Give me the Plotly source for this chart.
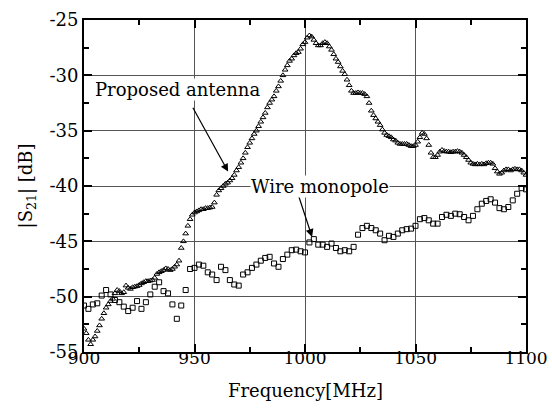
import plotly.graph_objects as go

# measured sweep, 1 MHz step for the proposed antenna, 2 MHz for the monopole
freq_prop = list(range(900, 1101, 1))
s21_prop = [
    -52.9, -53.3, -53.9, -54.3, -53.9, -53.6, -53.1, -52.6, -52.0, -51.5,
    -51.0, -50.7, -50.4, -50.2, -49.7, -49.4, -49.5, -49.7, -49.6, -49.0,
    -49.2, -49.3, -49.15, -49.1, -49.05, -48.95, -48.8, -48.7, -48.6, -48.6,
    -48.55, -48.5, -48.3, -47.95, -47.8, -47.7, -47.6, -47.45, -47.5, -47.6,
    -47.5, -47.3, -47.1, -46.75, -45.6, -45.0, -44.3, -43.6, -43.0, -42.6,
    -42.4, -42.3, -42.2, -42.1, -42.1, -42.0, -42.0, -41.95, -41.9, -41.5,
    -40.8, -40.4, -40.2, -40.0, -39.8, -39.7, -39.5, -39.3, -39.0, -38.6,
    -38.3, -37.9, -37.5, -37.0, -36.5, -36.1, -35.7, -35.3, -35.0, -34.6,
    -34.2, -33.8, -33.4, -32.9, -32.5, -32.2, -31.9, -31.4, -31.0, -30.5,
    -30.0, -29.5, -29.1, -28.7, -28.5, -28.2, -28.0, -27.9, -27.6, -27.2,
    -27.0, -26.6, -26.4, -26.5, -26.8, -27.1, -27.3, -27.3, -27.1, -27.0,
    -27.1, -27.4, -27.7, -28.1, -28.5, -28.8, -29.2, -29.6, -29.9, -30.4,
    -30.9, -31.4, -31.6, -31.6, -31.55, -31.6, -31.6, -31.7, -31.9, -32.5,
    -33.2, -33.6, -33.9, -34.2, -34.5, -34.9, -35.2, -35.4, -35.5, -35.6,
    -35.8, -35.9, -36.1, -36.2, -36.2, -36.2, -36.2, -36.3, -36.4, -36.4,
    -36.3, -36.0, -35.6, -35.2, -35.3, -35.7, -36.3, -37.0, -37.4, -37.4,
    -37.2, -36.9, -36.75, -36.85, -36.9, -36.9, -36.95, -36.9, -36.9, -36.85,
    -36.9, -37.0, -37.2, -37.4, -37.65, -37.9, -38.0, -38.05, -38.0, -38.05,
    -38.0, -38.05, -37.95, -37.9, -37.9, -38.0, -38.4, -38.7, -38.9, -38.8,
    -38.6, -38.5, -38.5, -38.6, -38.5, -38.45, -38.5, -38.5, -38.6, -38.8,
    -39.0,
]

freq_wire = list(range(900, 1101, 2))
s21_wire = [
    -50.8, -51.1, -50.7, -50.6, -49.9, -49.4, -49.8, -50.3, -50.5, -50.9,
    -51.3, -51.0, -50.4, -51.1, -50.5, -49.8, -49.1, -48.7, -49.5, -49.7,
    -50.7, -52.0, -50.8, -49.4, -47.5, -47.4, -47.1, -47.2, -47.8, -48.0,
    -48.5, -47.3, -47.6, -48.5, -48.9, -49.0, -48.0, -47.8, -47.4, -47.1,
    -46.75, -46.5, -46.4, -47.0, -47.3, -46.6, -46.2, -45.8, -45.75, -45.9,
    -46.0, -45.1, -44.8, -45.3, -45.3, -45.5, -45.2, -45.6, -45.9, -45.8,
    -45.9, -45.5, -44.4, -43.8, -43.6, -43.8, -44.0, -44.3, -44.9, -44.5,
    -44.6, -44.3, -44.0, -43.9, -43.85, -43.6, -43.0, -42.9, -43.1, -43.4,
    -43.4, -42.8, -42.6, -42.7, -42.5, -42.55, -42.8, -43.1, -42.7, -42.1,
    -41.6, -41.35, -41.2, -41.5, -42.0, -42.1, -41.9, -41.3, -40.7, -40.2,
    -40.3,
]

x_ticks = [900, 950, 1000, 1050, 1100]
y_ticks = [-55, -50, -45, -40, -35, -30, -25]
y_ticktext = ['-55', '-50', '-45', '-40', '-35', '-30', '-25']

serif = "DejaVu Serif"

fig = go.Figure()
fig.add_trace(go.Scatter(x=freq_wire, y=s21_wire, mode='markers', name='Wire monopole',
                         marker=dict(symbol='square-open', size=5, color='black',
                                     line=dict(width=1, color='black'))))
fig.add_trace(go.Scatter(x=freq_prop, y=s21_prop, mode='markers', name='Proposed antenna',
                         marker=dict(symbol='triangle-up-open', size=5, color='black',
                                     line=dict(width=1, color='black'))))

# labels with arrows
fig.add_annotation(x=965.2, y=-38.7, ax=948.9, ay=-32.8, axref='x', ayref='y',
                   text='', showarrow=True, arrowhead=2, arrowsize=1.3, arrowwidth=1.2,
                   arrowcolor='black')
fig.add_annotation(x=1003.2, y=-44.6, ax=996.8, ay=-40.7, axref='x', ayref='y',
                   text='', showarrow=True, arrowhead=2, arrowsize=1.3, arrowwidth=1.2,
                   arrowcolor='black')
fig.add_annotation(x=904.5, y=-31.3, xanchor='left', yanchor='middle', showarrow=False,
                   text='Proposed antenna', font=dict(family=serif, size=18, color='black'),
                   bgcolor='white', borderpad=0)
fig.add_annotation(x=1007, y=-40, xanchor='center', yanchor='middle', showarrow=False,
                   text='Wire monopole', font=dict(family=serif, size=18, color='black'),
                   bgcolor='white', borderpad=0)

# axis titles placed by hand so they fit the small canvas
fig.add_annotation(x=0.5, y=-0.115, xref='paper', yref='paper', xanchor='center',
                   yanchor='middle', showarrow=False, text='Frequency[MHz]',
                   font=dict(family=serif, size=18, color='black'))
fig.add_annotation(x=-0.128, y=0.5, xref='paper', yref='paper', xanchor='center',
                   yanchor='middle', showarrow=False, textangle=-90,
                   text='|S<sub>21</sub>| [dB]',
                   font=dict(family=serif, size=18, color='black'))

axis_style = dict(showline=True, linecolor='black', linewidth=2, mirror='ticks',
                  ticks='inside', ticklen=8, tickwidth=2, tickcolor='black',
                  showgrid=True, gridcolor='#555555', gridwidth=1, zeroline=False)

fig.update_xaxes(range=[900, 1100], tickvals=x_ticks, ticklabelstandoff=-10,
                 ticklabeloverflow='allow',
                 tickfont=dict(family=serif, size=17, color='black'),
                 minor=dict(ticks='inside', ticklen=5, tickwidth=1.5, dtick=25, tickcolor='black',
                            showgrid=False),
                 **axis_style)
fig.update_yaxes(range=[-55, -25], tickvals=y_ticks, ticktext=y_ticktext,
                 tickfont=dict(family=serif, size=18, color='black'),
                 minor=dict(ticks='inside', ticklen=5, tickwidth=1.5, dtick=2.5, tickcolor='black',
                            showgrid=False),
                 **axis_style)

fig.update_layout(width=552, height=408, showlegend=False,
                  paper_bgcolor='white', plot_bgcolor='white',
                  margin=dict(l=84, r=26, t=20, b=56, autoexpand=False))

# drop the default page margin so the 552x408 figure fills the window exactly
fig.write_html("out.html", config={'displayModeBar': False},
               post_script="document.body.style.margin='0px';document.body.style.overflow='hidden';")
